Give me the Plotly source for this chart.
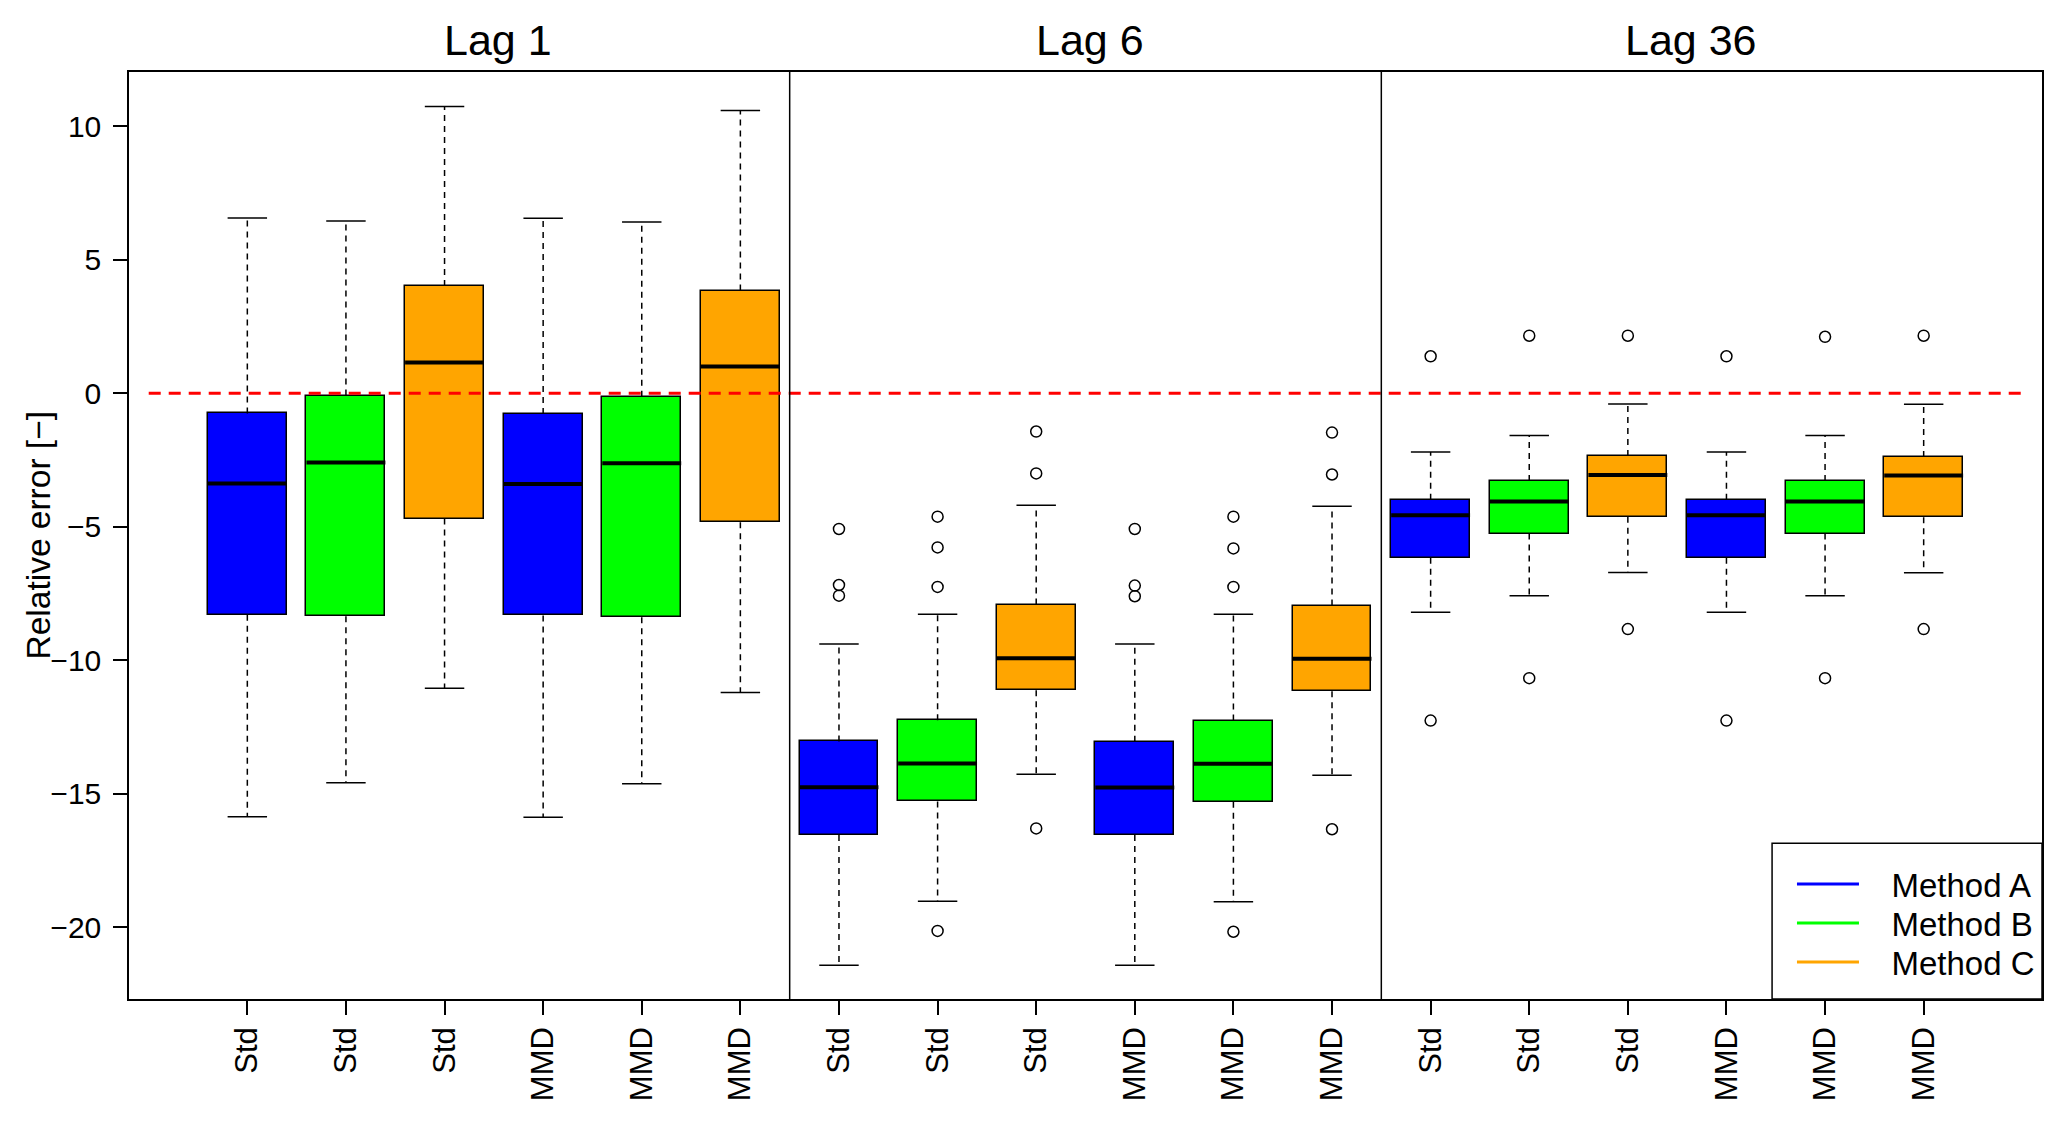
import plotly.graph_objects as go

# ---------------- data ----------------
lag_titles = ["Lag 1", "Lag 6", "Lag 36"]
tick_labels = ["Std", "Std", "Std", "MMD", "MMD", "MMD",
               "Std", "Std", "Std", "MMD", "MMD", "MMD",
               "Std", "Std", "Std", "MMD", "MMD", "MMD"]
method_names = ["Method A", "Method B", "Method C"]
method_colors = ["#0000FF", "#00FF00", "#FFA500"]

whisker_low = [-15.86, -14.59, -11.05, -15.88, -14.63, -11.21,
               -21.43, -19.03, -14.27, -21.43, -19.05, -14.31,
               -8.20, -7.58, -6.71, -8.20, -7.58, -6.72]
q1 = [-8.29, -8.35, -4.69, -8.32, -8.39, -4.83,
      -16.55, -15.29, -11.12, -16.55, -15.30, -11.16,
      -6.16, -5.25, -4.62, -6.16, -5.25, -4.64]
median = [-3.38, -2.59, 1.16, -3.40, -2.62, 1.01,
          -14.76, -13.87, -9.92, -14.77, -13.88, -9.94,
          -4.57, -4.05, -3.06, -4.57, -4.05, -3.08]
q3 = [-0.75, -0.08, 4.02, -0.77, -0.13, 3.85,
      -13.04, -12.25, -7.91, -13.05, -12.26, -7.95,
      -3.99, -3.28, -2.35, -3.99, -3.28, -2.38]
whisker_high = [6.57, 6.46, 10.75, 6.56, 6.42, 10.60,
                -9.39, -8.28, -4.19, -9.39, -8.28, -4.23,
                -2.20, -1.58, -0.40, -2.20, -1.58, -0.41]

outlier_box = [7, 7, 7, 8, 8, 8, 8, 9, 9, 9,
               10, 10, 10, 11, 11, 11, 11, 12, 12, 12,
               13, 13, 14, 14, 15, 15, 16, 16, 17, 17, 18, 18]
outlier_val = [-5.08, -7.18, -7.58, -4.62, -5.77, -7.25, -20.14, -1.43, -3.00, -16.30,
               -5.08, -7.20, -7.60, -4.62, -5.81, -7.25, -20.17, -1.47, -3.04, -16.33,
               1.39, -12.26, 2.16, -10.67, 2.16, -8.83, 1.39, -12.26, 2.12, -10.67, 2.16, -8.83]

reference_value = 0.0
y_ticks = [-20, -15, -10, -5, 0, 5, 10]

# ---------------- derived ----------------
n = len(median)
pos = list(range(1, n + 1))
n_groups = len(lag_titles)
per_group = n // n_groups
box_colors = [method_colors[i % len(method_colors)] for i in range(n)]
half_box = 0.4
half_cap = 0.2
title_shift = [4, 4, 14]
legend_rows_y = [0.1239, 0.0819, 0.0398]

FONT = "Liberation Sans, Arial, Helvetica, sans-serif"


def segs(xs0, xs1, ys0, ys1):
    X, Y = [], []
    for a, b, c, d in zip(xs0, xs1, ys0, ys1):
        X += [a, b, None]
        Y += [c, d, None]
    return X, Y


fig = go.Figure()

# dashed whiskers
wx, wy = segs(pos + pos, pos + pos, q3 + q1, whisker_high + whisker_low)
fig.add_trace(go.Scatter(x=wx, y=wy, mode="lines", showlegend=False, hoverinfo="skip",
                         line=dict(color="black", width=1.5, dash="6px,5px")))
# staples
cx, cy = segs([p - half_cap for p in pos] * 2, [p + half_cap for p in pos] * 2,
              whisker_high + whisker_low, whisker_high + whisker_low)
fig.add_trace(go.Scatter(x=cx, y=cy, mode="lines", showlegend=False, hoverinfo="skip",
                         line=dict(color="black", width=1.5)))

# boxes
fig.add_trace(go.Bar(x=pos, base=q1, y=[b - a for a, b in zip(q1, q3)], width=2 * half_box,
                     marker=dict(color=box_colors, line=dict(color="black", width=1.5)),
                     showlegend=False, hoverinfo="skip"))

# medians
mx, my = segs([p - half_box for p in pos], [p + half_box for p in pos], median, median)
fig.add_trace(go.Scatter(x=mx, y=my, mode="lines", showlegend=False, hoverinfo="skip",
                         line=dict(color="black", width=4)))

# outliers
fig.add_trace(go.Scatter(x=outlier_box, y=outlier_val, mode="markers", showlegend=False,
                         hoverinfo="skip",
                         marker=dict(symbol="circle-open", size=11, color="black",
                                     line=dict(width=1.5, color="black"))))

# reference line
fig.add_trace(go.Scatter(x=[pos[0] - 1, pos[-1] + 1], y=[reference_value, reference_value],
                         mode="lines", showlegend=False, hoverinfo="skip",
                         line=dict(color="#FF0000", width=3, dash="12px,8px")))

# legend entries (one legend per row for exact row spacing)
legend_layouts = {}
for k, (name, col) in enumerate(zip(method_names, method_colors)):
    lname = "legend" if k == 0 else "legend%d" % (k + 1)
    fig.add_trace(go.Scatter(x=[None], y=[None], mode="lines", legend=lname,
                             name="\u00a0\u00a0\u00a0" + name,
                             line=dict(color=col, width=3)))
    legend_layouts[lname] = dict(x=0.8693, y=legend_rows_y[k], xanchor="left", yanchor="middle",
                                 bgcolor="rgba(0,0,0,0)", borderwidth=0,
                                 font=dict(size=33, family=FONT, color="black"), itemwidth=62)

# panel separators + legend frame
shapes = []
for g in range(1, n_groups):
    xs = g * per_group + 0.5
    shapes.append(dict(type="line", xref="x", yref="paper", x0=xs, x1=xs, y0=0, y1=1,
                       line=dict(color="black", width=1.5)))
shapes.append(dict(type="rect", xref="paper", yref="paper", x0=0.8589, x1=1, y0=0, y1=0.168,
                   fillcolor="white", line=dict(color="black", width=1.5), layer="above"))

annotations = []
for g, t in enumerate(lag_titles):
    cx_ = sum(pos[g * per_group:(g + 1) * per_group]) / per_group
    annotations.append(dict(text=t, x=cx_, xref="x", y=1, yref="paper", yanchor="bottom",
                            xanchor="center", yshift=6, xshift=title_shift[g], showarrow=False,
                            font=dict(size=43, color="black", family=FONT)))
annotations.append(dict(text="Relative error [\u2212]", x=0, xref="paper", y=0.5, yref="paper",
                        xanchor="center", yanchor="middle", xshift=-91, textangle=-90,
                        showarrow=False, font=dict(size=33.5, color="black", family=FONT)))

axis_common = dict(showline=True, linecolor="black", linewidth=1.5, mirror=True,
                   ticks="outside", ticklen=14, tickwidth=1.5, tickcolor="black",
                   showgrid=False, zeroline=False)

fig.update_layout(
    width=2052, height=1105,
    margin=dict(l=121, r=18, t=64, b=112, pad=0),
    paper_bgcolor="white", plot_bgcolor="white",
    font=dict(family=FONT, color="black"),
    xaxis=dict(range=[-0.2, 19.2], tickmode="array", tickvals=pos, ticktext=tick_labels,
               tickangle=-90, tickfont=dict(size=31, color="black", family=FONT),
               **axis_common),
    yaxis=dict(range=[-22.69, 12.04], tickmode="array", tickvals=y_ticks,
               ticklabelstandoff=6, tickfont=dict(size=30, color="black", family=FONT),
               **axis_common),
    shapes=shapes, annotations=annotations,
    bargap=0, hovermode=False,
    **legend_layouts,
)

fig.write_html("out.html")
